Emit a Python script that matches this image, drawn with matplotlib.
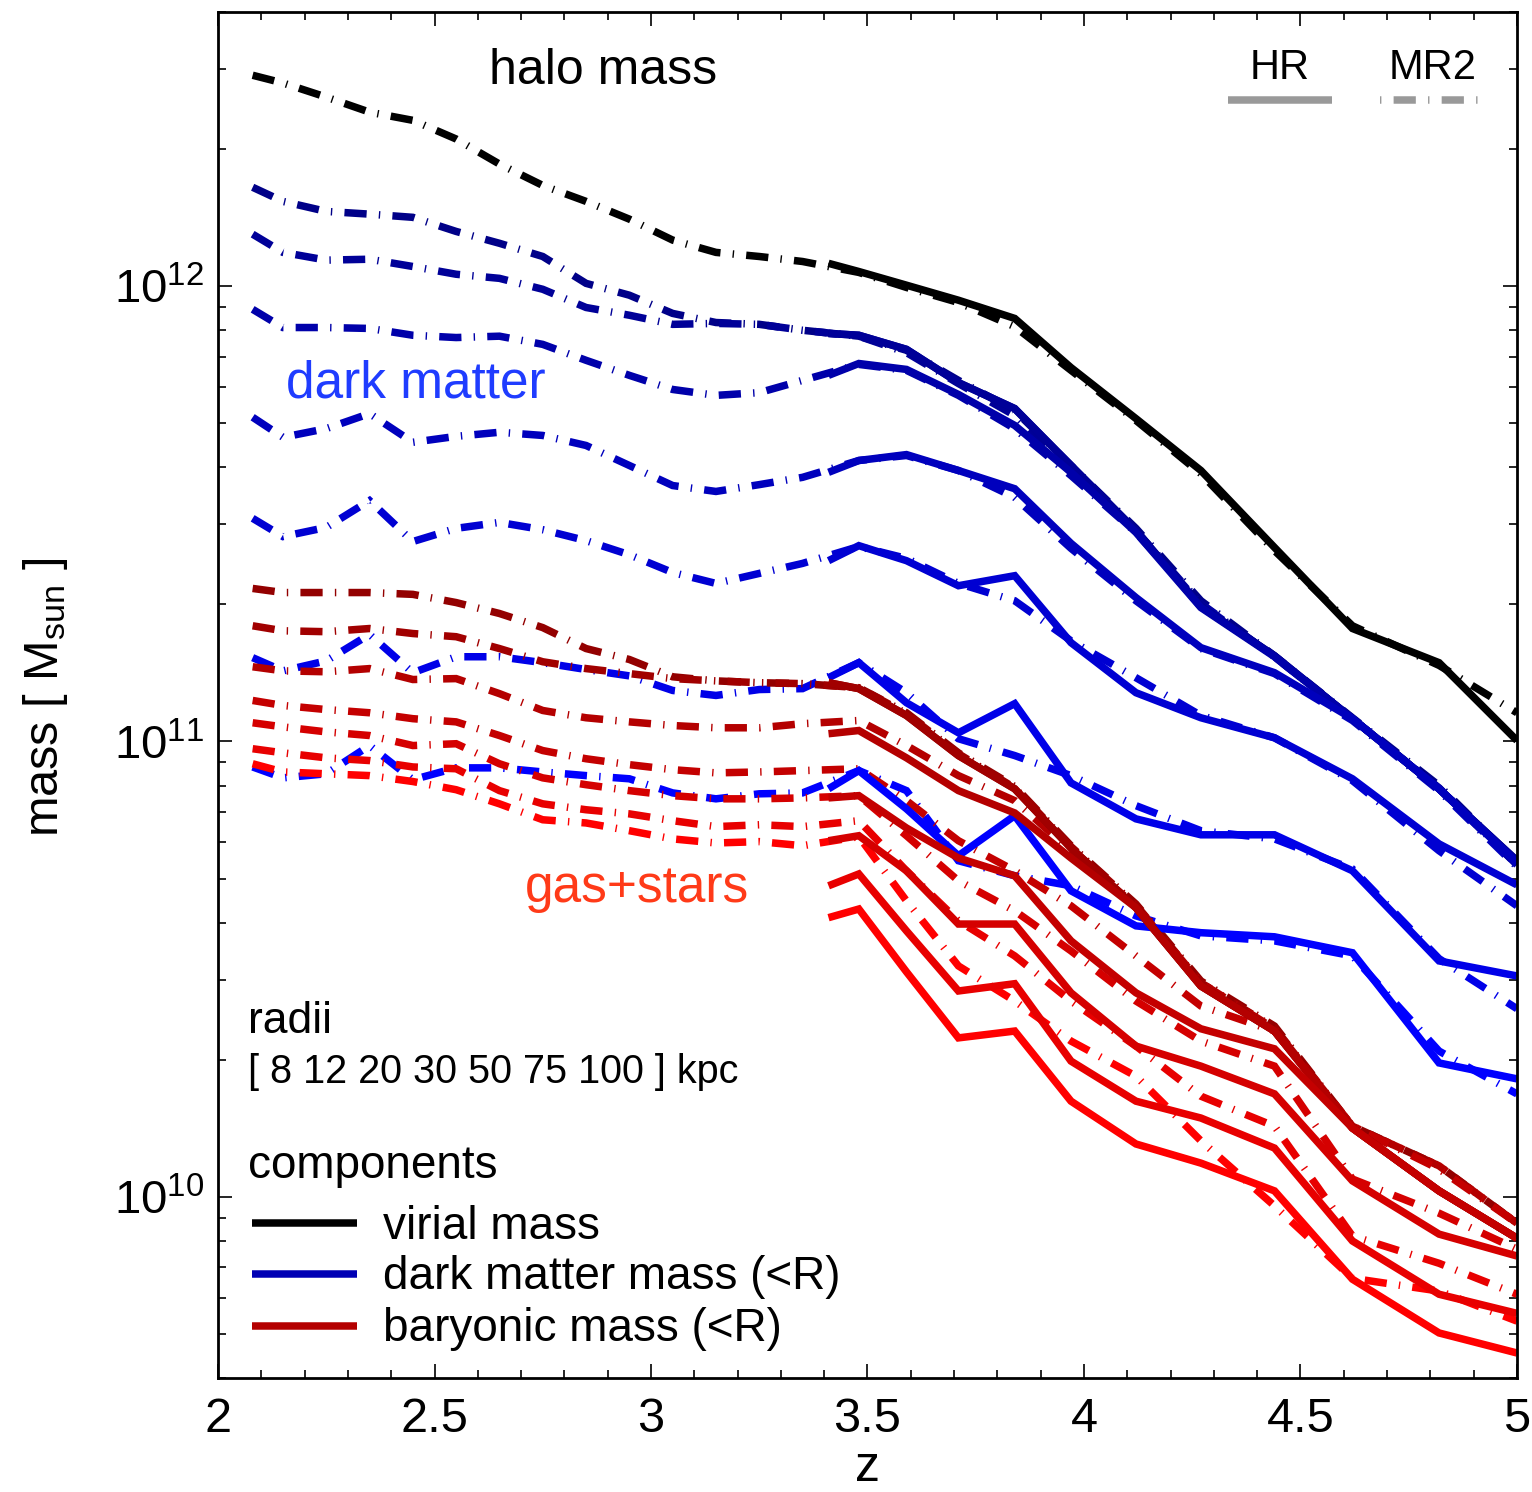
import matplotlib
matplotlib.use("Agg")
import matplotlib.pyplot as plt
import numpy as np
from matplotlib.ticker import MultipleLocator, LogLocator, FixedLocator, FixedFormatter

plt.rcParams["font.family"] = ["Liberation Sans", "DejaVu Sans"]
plt.rcParams["mathtext.fontset"] = "custom"
plt.rcParams["mathtext.rm"] = "Liberation Sans"
plt.rcParams["mathtext.it"] = "Liberation Sans:italic"
plt.rcParams["mathtext.bf"] = "Liberation Sans:bold"
plt.rcParams["lines.scale_dashes"] = False

# ---- data: log10(M / Msun) ----
RADII_KPC = [100, 75, 50, 30, 20, 12, 8]

# MR2 snapshots (dash-dot) and HR snapshots (solid)
Z_MR2 = [2.08, 2.15, 2.25, 2.35, 2.45, 2.55, 2.65, 2.75, 2.85, 2.95, 3.05, 3.15, 3.25,
         3.35, 3.48, 3.59, 3.71, 3.84, 3.97, 4.12, 4.27, 4.44, 4.62, 4.82, 5.00]
Z_HR = [3.41, 3.48, 3.59, 3.71, 3.84, 3.97, 4.12, 4.27, 4.44, 4.62, 4.82, 5.00]

VIR_MR2 = [12.463, 12.446, 12.415, 12.382, 12.364, 12.323, 12.268, 12.221, 12.186, 12.147,
           12.101, 12.074, 12.065, 12.054, 12.030, 11.997, 11.964, 11.911, 11.815, 11.705,
           11.588, 11.419, 11.254, 11.167, 11.063]
VIR_HR = [12.050, 12.032, 12.002, 11.969, 11.929, 11.821, 11.709, 11.595, 11.426, 11.248,
          11.173, 11.002]

# dark matter mass within R, MR2
DM_MR2_100 = [12.217, 12.186, 12.164, 12.158, 12.151, 12.120, 12.094, 12.065, 12.006, 11.980,
              11.940, 11.920, 11.916, 11.903, 11.890, 11.859, 11.793, 11.727, 11.606, 11.468,
              11.309, 11.188, 11.052, 10.903, 10.733]
DM_MR2_75 = [12.114, 12.074, 12.057, 12.059, 12.043, 12.026, 12.017, 11.993, 11.953, 11.936,
             11.916, 11.918, 11.916, 11.903, 11.890, 11.854, 11.786, 11.716, 11.591, 11.463,
             11.303, 11.186, 11.050, 10.898, 10.729]
DM_MR2_50 = [11.949, 11.909, 11.909, 11.907, 11.892, 11.887, 11.890, 11.872, 11.837, 11.804,
             11.773, 11.760, 11.766, 11.793, 11.828, 11.815, 11.760, 11.687, 11.584, 11.459,
             11.301, 11.186, 11.050, 10.896, 10.729]
DM_MR2_30 = [11.712, 11.668, 11.687, 11.720, 11.657, 11.670, 11.679, 11.672, 11.650, 11.606,
             11.562, 11.549, 11.564, 11.580, 11.617, 11.628, 11.595, 11.536, 11.424, 11.309,
             11.204, 11.149, 11.046, 10.892, 10.725]
DM_MR2_20 = [11.490, 11.450, 11.470, 11.529, 11.439, 11.468, 11.481, 11.465, 11.441, 11.410,
             11.371, 11.347, 11.369, 11.391, 11.428, 11.402, 11.347, 11.309, 11.221, 11.140,
             11.057, 11.008, 10.914, 10.760, 10.639]
DM_MR2_12 = [11.184, 11.155, 11.177, 11.235, 11.151, 11.186, 11.186, 11.173, 11.158, 11.144,
             11.112, 11.101, 11.114, 11.116, 11.173, 11.107, 11.006, 10.969, 10.925, 10.859,
             10.804, 10.786, 10.720, 10.523, 10.413]
DM_MR2_8 = [10.944, 10.920, 10.929, 10.991, 10.916, 10.942, 10.942, 10.933, 10.925, 10.918,
            10.887, 10.874, 10.885, 10.887, 10.936, 10.892, 10.738, 10.705, 10.683, 10.617,
            10.573, 10.562, 10.529, 10.320, 10.226]

# dark matter mass within R, HR
DM_HR_100 = [11.896, 11.892, 11.861, 11.788, 11.731, 11.606, 11.463, 11.296, 11.188, 11.050,
             10.896, 10.738]
DM_HR_75 = [11.896, 11.892, 11.861, 11.788, 11.731, 11.606, 11.463, 11.296, 11.188, 11.050,
            10.896, 10.738]
DM_HR_50 = [11.804, 11.830, 11.817, 11.762, 11.694, 11.591, 11.459, 11.294, 11.186, 11.050,
            10.896, 10.736]
DM_HR_30 = [11.591, 11.617, 11.630, 11.595, 11.555, 11.435, 11.316, 11.206, 11.151, 11.050,
            10.896, 10.733]
DM_HR_20 = [11.397, 11.430, 11.397, 11.342, 11.364, 11.217, 11.107, 11.052, 11.008, 10.918,
            10.775, 10.685]
DM_HR_12 = [11.140, 11.173, 11.085, 11.019, 11.083, 10.909, 10.830, 10.795, 10.795, 10.716,
            10.518, 10.485]
DM_HR_8 = [10.896, 10.936, 10.852, 10.749, 10.837, 10.672, 10.595, 10.580, 10.571, 10.536,
           10.294, 10.259]

# baryonic mass within R, MR2
BAR_MR2_100 = [11.336, 11.327, 11.327, 11.327, 11.323, 11.305, 11.281, 11.250, 11.204, 11.180,
               11.142, 11.133, 11.129, 11.127, 11.118, 11.063, 10.975, 10.901, 10.771, 10.643,
               10.474, 10.375, 10.155, 10.068, 9.942]
BAR_MR2_75 = [11.254, 11.243, 11.241, 11.248, 11.237, 11.230, 11.204, 11.175, 11.160, 11.149,
              11.138, 11.133, 11.129, 11.127, 11.118, 11.061, 10.973, 10.898, 10.769, 10.641,
              10.470, 10.371, 10.155, 10.068, 9.942]
BAR_MR2_50 = [11.164, 11.155, 11.153, 11.160, 11.136, 11.138, 11.105, 11.068, 11.052, 11.043,
              11.035, 11.030, 11.030, 11.039, 11.046, 10.991, 10.925, 10.870, 10.760, 10.639,
              10.470, 10.369, 10.155, 10.068, 9.942]
BAR_MR2_30 = [11.090, 11.079, 11.070, 11.063, 11.050, 11.043, 11.013, 10.980, 10.962, 10.949,
              10.938, 10.931, 10.933, 10.936, 10.940, 10.870, 10.782, 10.716, 10.639, 10.529,
              10.419, 10.364, 10.155, 10.061, 9.942]
BAR_MR2_20 = [11.041, 11.032, 11.021, 11.013, 10.991, 10.995, 10.951, 10.920, 10.905, 10.892,
              10.881, 10.874, 10.874, 10.876, 10.881, 10.793, 10.694, 10.628, 10.540, 10.430,
              10.342, 10.287, 10.039, 9.964, 9.885]
BAR_MR2_12 = [10.984, 10.975, 10.964, 10.958, 10.944, 10.940, 10.892, 10.863, 10.850, 10.841,
              10.826, 10.813, 10.817, 10.813, 10.826, 10.716, 10.606, 10.529, 10.430, 10.331,
              10.221, 10.155, 9.914, 9.854, 9.786]
BAR_MR2_8 = [10.951, 10.933, 10.929, 10.925, 10.912, 10.894, 10.863, 10.828, 10.821, 10.804,
             10.786, 10.777, 10.780, 10.771, 10.791, 10.650, 10.507, 10.430, 10.342, 10.265,
             10.123, 9.980, 9.821, 9.793, 9.727]

# baryonic mass within R, HR
BAR_HR_100 = [11.129, 11.116, 11.057, 10.969, 10.896, 10.766, 10.635, 10.463, 10.364, 10.151,
              10.013, 9.909]
BAR_HR_75 = [11.129, 11.116, 11.057, 10.969, 10.896, 10.766, 10.635, 10.463, 10.364, 10.151,
             10.013, 9.909]
BAR_HR_50 = [11.017, 11.024, 10.964, 10.892, 10.843, 10.744, 10.635, 10.463, 10.364, 10.151,
             10.013, 9.909]
BAR_HR_30 = [10.876, 10.881, 10.810, 10.744, 10.705, 10.562, 10.448, 10.369, 10.325, 10.151,
             10.013, 9.909]
BAR_HR_20 = [10.782, 10.793, 10.716, 10.599, 10.599, 10.448, 10.331, 10.287, 10.226, 10.035,
             9.918, 9.870]
BAR_HR_12 = [10.683, 10.709, 10.584, 10.452, 10.468, 10.298, 10.210, 10.173, 10.107, 9.903,
             9.786, 9.744]
BAR_HR_8 = [10.613, 10.632, 10.494, 10.349, 10.364, 10.210, 10.116, 10.074, 10.013, 9.819,
            9.701, 9.657]

Y_TICKS = [1e10, 1e11, 1e12]
Y_TICK_LABELS = [r"10$^{10}$", r"10$^{11}$", r"10$^{12}$"]

# ---- styles ----
BLUES = ["#000088", "#000098", "#0000aa", "#0000bd", "#0000d2", "#0000e8", "#0000ff"]
REDS = ["#930000", "#a10000", "#b40000", "#c40000", "#d50000", "#e80000", "#ff0000"]
LW = 5.4
DASHDOT = (0, (16, 8.8, 1, 8.8))


def draw(ax, z, logm, color, solid):
    m = 10.0 ** np.asarray(logm)
    if solid:
        ax.plot(z, m, color=color, lw=LW, solid_joinstyle="miter", solid_capstyle="butt")
    else:
        ax.plot(z, m, color=color, lw=LW, linestyle=DASHDOT,
                dash_capstyle="butt", dash_joinstyle="miter")


def main():
    fig = plt.figure(figsize=(15.32, 14.92), dpi=100, facecolor="white")
    ax = fig.add_axes([0.1423, 0.0764, 0.8479, 0.9156])

    dm_mr2 = [DM_MR2_100, DM_MR2_75, DM_MR2_50, DM_MR2_30, DM_MR2_20, DM_MR2_12, DM_MR2_8]
    dm_hr = [DM_HR_100, DM_HR_75, DM_HR_50, DM_HR_30, DM_HR_20, DM_HR_12, DM_HR_8]
    bar_mr2 = [BAR_MR2_100, BAR_MR2_75, BAR_MR2_50, BAR_MR2_30, BAR_MR2_20, BAR_MR2_12, BAR_MR2_8]
    bar_hr = [BAR_HR_100, BAR_HR_75, BAR_HR_50, BAR_HR_30, BAR_HR_20, BAR_HR_12, BAR_HR_8]

    # MR2 first (dash-dot), then HR (solid) on top
    draw(ax, Z_MR2, VIR_MR2, "black", False)
    for i in range(len(RADII_KPC)):
        draw(ax, Z_MR2, dm_mr2[i], BLUES[i], False)
    for i in range(len(RADII_KPC)):
        draw(ax, Z_MR2, bar_mr2[i], REDS[i], False)

    draw(ax, Z_HR, VIR_HR, "black", True)
    for i in range(len(RADII_KPC)):
        draw(ax, Z_HR, dm_hr[i], BLUES[i], True)
    for i in range(len(RADII_KPC)):
        draw(ax, Z_HR, bar_hr[i], REDS[i], True)

    # axes
    ax.set_yscale("log")
    ax.set_xlim(2, 5)
    ax.set_ylim(4.0e9, 4.0e12)
    ax.xaxis.set_major_locator(MultipleLocator(0.5))
    ax.xaxis.set_minor_locator(MultipleLocator(0.1))
    ax.yaxis.set_major_locator(FixedLocator(Y_TICKS))
    ax.yaxis.set_major_formatter(FixedFormatter(Y_TICK_LABELS))
    ax.yaxis.set_minor_locator(LogLocator(base=10, subs=np.arange(2, 10)))
    ax.set_xticks([2, 2.5, 3, 3.5, 4, 4.5, 5])
    ax.set_xticklabels(["2", "2.5", "3", "3.5", "4", "4.5", "5"])
    ax.tick_params(which="both", direction="in", top=True, right=True, width=1.2, color="black")
    ax.tick_params(which="major", length=10)
    ax.tick_params(which="minor", length=5.5)
    ax.tick_params(axis="x", labelsize=35, pad=14)
    ax.tick_params(axis="y", labelsize=34, pad=10)
    for sp in ax.spines.values():
        sp.set_linewidth(2.0)

    ax.set_xlabel("z", fontsize=36, labelpad=2)
    ax.text(-0.133, 0.498, r"mass [ M$_{\rm sun}$ ]", transform=ax.transAxes,
            rotation=90, ha="center", va="center", fontsize=35)

    # annotations
    ax.text(0.2964, 0.957, "halo mass", transform=ax.transAxes, ha="center", va="center",
            fontsize=36)
    ax.text(0.1524, 0.728, "dark matter", transform=ax.transAxes, ha="center", va="center",
            fontsize=37, color="#1f3cff")
    ax.text(0.3226, 0.3587, "gas+stars", transform=ax.transAxes, ha="center", va="center",
            fontsize=37, color="#ff3a18")

    # HR / MR2 key
    ax.text(0.8176, 0.9588, "HR", transform=ax.transAxes, ha="center", va="center", fontsize=30)
    ax.text(0.9353, 0.9588, "MR2", transform=ax.transAxes, ha="center", va="center", fontsize=30)
    ax.plot([0.7775, 0.8576], [0.9353, 0.9353], transform=ax.transAxes, color="#999999",
            lw=LW, solid_capstyle="butt")
    ax.plot([0.8945, 0.9700], [0.9353, 0.9353], transform=ax.transAxes, color="#999999",
            lw=LW, linestyle=(24.8, (16, 8.8, 1, 8.8)), dash_capstyle="butt")

    # radii / components key
    ax.text(0.0231, 0.2525, "radii", transform=ax.transAxes, ha="left", va="baseline",
            fontsize=32)
    ax.text(0.0231, 0.2159, "[ " + " ".join(str(r) for r in sorted(RADII_KPC)) + " ] kpc",
            transform=ax.transAxes, ha="left", va="baseline", fontsize=28.5)
    ax.text(0.0231, 0.1463, "components", transform=ax.transAxes, ha="left", va="baseline",
            fontsize=33)
    keys = [("virial mass", "black", 0.1133, 0.1016),
            ("dark matter mass (<R)", "#0000b4", 0.0760, 0.0650),
            ("baryonic mass (<R)", "#b40000", 0.0379, 0.0269)]
    for label, col, yl, yt in keys:
        ax.plot([0.0262, 0.1070], [yl, yl], transform=ax.transAxes, color=col, lw=LW,
                solid_capstyle="butt")
        ax.text(0.1270, yt, label, transform=ax.transAxes, ha="left", va="baseline",
                fontsize=33)

    fig.savefig("out.png", dpi=100, facecolor="white")
    plt.close(fig)


if __name__ == "__main__":
    main()
